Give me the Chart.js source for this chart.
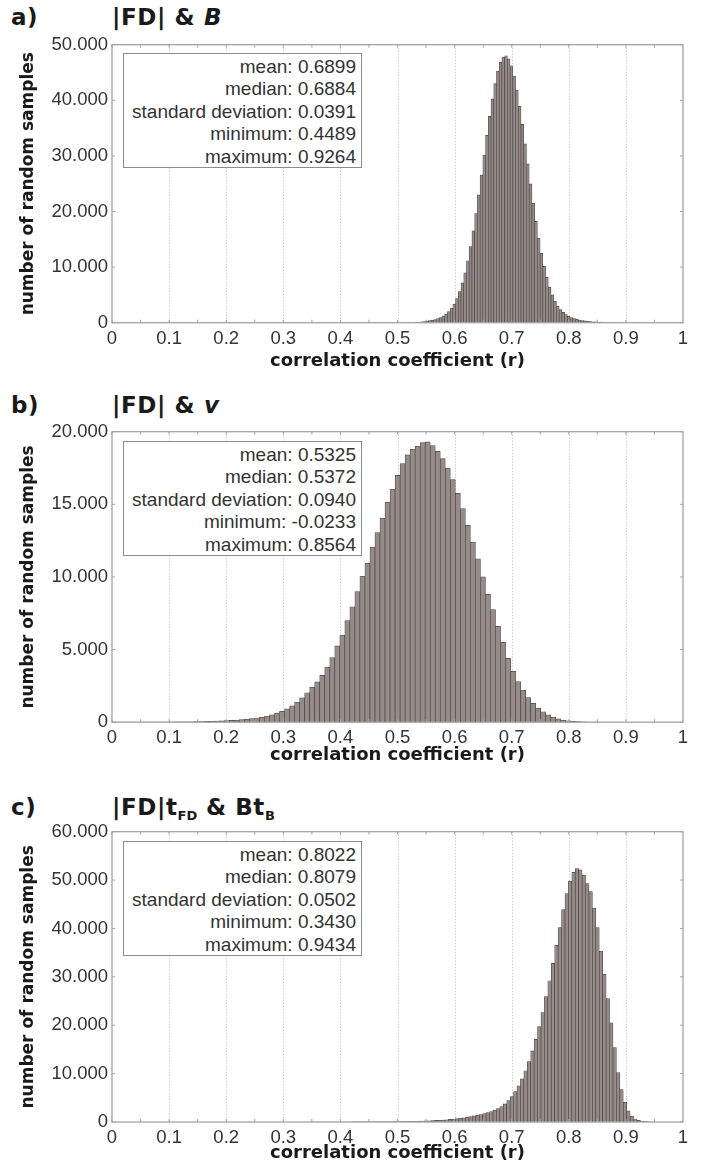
<!DOCTYPE html>
<html lang="en">
<head>
<meta charset="UTF-8">
<title>Correlation coefficient histograms</title>
<script src="https://cdn.jsdelivr.net/npm/chart.js"></script>
<style>
  body { margin: 0; width: 707px; height: 1171px; position: relative; overflow: hidden; background: #fff;
         font-family: "Liberation Sans", Arial, sans-serif; }
  canvas { position: absolute; left: 0; }
  .lbl { position: absolute; font: bold 23px "DejaVu Sans", Verdana, sans-serif; color: #1a1a1a;
         line-height: 26px; white-space: nowrap; letter-spacing: 0.6px; }
  .lbl sub { font-size: 13px; vertical-align: -5px; line-height: 0; letter-spacing: 0; }
  .stats { position: absolute; left: 123px; width: 239px; height: 115px; box-sizing: border-box;
           border: 1px solid #8c8c8c; background: #fff; text-align: right; color: #333;
           font-size: 19px; line-height: 22.4px; padding: 2px 5px 0 0; white-space: nowrap; }
</style>
</head>
<body>

<div class="lbl" style="left:11px; top:4px;">a)</div>
<div class="lbl" style="left:112px; top:4px;">|FD| &amp; <i>B</i></div>
<canvas id="chartA"></canvas>
<div class="stats" style="top:53px;">
  mean: 0.6899<br>median: 0.6884<br>standard deviation: 0.0391<br>minimum: 0.4489<br>maximum: 0.9264
</div>

<div class="lbl" style="left:11px; top:392px;">b)</div>
<div class="lbl" style="left:112px; top:392px;">|FD| &amp; <i>v</i></div>
<canvas id="chartB"></canvas>
<div class="stats" style="top:441px;">
  mean: 0.5325<br>median: 0.5372<br>standard deviation: 0.0940<br>minimum: -0.0233<br>maximum: 0.8564
</div>

<div class="lbl" style="left:11px; top:794px;">c)</div>
<div class="lbl" style="left:112px; top:794px;">|FD|t<sub>FD</sub> &amp; Bt<sub>B</sub></div>
<canvas id="chartC"></canvas>
<div class="stats" style="top:841px;">
  mean: 0.8022<br>median: 0.8079<br>standard deviation: 0.0502<br>minimum: 0.3430<br>maximum: 0.9434
</div>

<script>
    // histogram counts, 100 bins between the reported minimum and maximum
    var countsA = [
        1, 1, 1, 2, 2, 3, 4, 6, 8, 11,
        15, 20, 27, 35, 46, 60, 78, 100, 130, 170,
        220, 280, 360, 460, 580, 740, 940, 1200, 1550, 2000,
        2600, 3350, 4350, 5600, 7150, 8950, 11150, 13670, 16510, 19630,
        23000, 26530, 30130, 33700, 37120, 40270, 43000, 45230, 46840, 47780,
        48000, 47460, 46220, 44330, 41860, 38940, 35660, 32150, 28560, 24970,
        21510, 18240, 15230, 12530, 10150, 8150, 6400, 5000, 3900, 3000,
        2350, 1850, 1450, 1150, 920, 740, 600, 490, 400, 320,
        260, 210, 170, 140, 115, 95, 78, 64, 52, 42,
        34, 27, 22, 17, 13, 10, 7, 5, 3, 2
    ];
    var countsB = [
        1, 0, 1, 1, 1, 2, 2, 3, 3, 4,
        5, 7, 9, 11, 14, 17, 21, 26, 31, 37,
        44, 52, 62, 75, 90, 110, 130, 150, 180, 210,
        250, 290, 340, 410, 500, 620, 750, 920, 1120, 1380,
        1670, 2030, 2420, 2780, 3220, 3800, 4450, 5250, 6000, 7000,
        7950, 9000, 10050, 10950, 12050, 13050, 14050, 15150, 16050, 17000,
        17800, 18400, 18800, 19000, 19250, 19300, 19050, 18650, 18150, 17500,
        16700, 15750, 14700, 13550, 12400, 11250, 10000, 8800, 7750, 6600,
        5500, 4400, 3500, 2800, 2200, 1700, 1300, 970, 720, 510,
        350, 230, 150, 100, 65, 40, 25, 14, 7, 3
    ];
    var countsC = [
        2, 1, 1, 2, 2, 3, 3, 4, 4, 5,
        6, 7, 8, 10, 11, 13, 15, 18, 21, 25,
        29, 34, 40, 46, 54, 62, 72, 83, 95, 110,
        126, 145, 166, 190, 217, 248, 283, 322, 366, 416,
        472, 535, 606, 686, 776, 878, 993, 1120, 1260, 1420,
        1550, 1720, 1930, 2170, 2450, 2780, 3200, 3750, 4450, 5250,
        6300, 7500, 8900, 10600, 12500, 14700, 17100, 19700, 22600, 25900,
        29200, 32800, 36500, 40200, 43900, 47200, 49800, 51600, 52400, 52100,
        51000, 49300, 47600, 44200, 40200, 35300, 30500, 25500, 20500, 15400,
        10200, 6700, 4100, 2300, 1200, 620, 320, 170, 90, 40
    ];
    var rangeA = [0.4489, 0.9264];
    var rangeB = [-0.0233, 0.8564];
    var rangeC = [0.3430, 0.9434];

    var xTicks = [0, 0.1, 0.2, 0.3, 0.4, 0.5, 0.6, 0.7, 0.8, 0.9, 1];
    var xTickLabels = ["0", "0.1", "0.2", "0.3", "0.4", "0.5", "0.6", "0.7", "0.8", "0.9", "1"];
    var yTicksA = [0, 10000, 20000, 30000, 40000, 50000];
    var yLabelsA = ["0", "10.000", "20.000", "30.000", "40.000", "50.000"];
    var yTicksB = [0, 5000, 10000, 15000, 20000];
    var yLabelsB = ["0", "5.000", "10.000", "15.000", "20.000"];
    var yTicksC = [0, 10000, 20000, 30000, 40000, 50000, 60000];
    var yLabelsC = ["0", "10.000", "20.000", "30.000", "40.000", "50.000", "60.000"];

    var tickFont = { family: '"Liberation Sans", Arial, sans-serif', size: 18.5 };
    var yTitleFont = { family: '"DejaVu Sans", Verdana, sans-serif', size: 17, weight: "bold" };
    var xTitleFont = { family: '"DejaVu Sans", Verdana, sans-serif', size: 18, weight: "bold" };

    // dotted grid behind the bars, box with inward ticks on top
    var frame = {
        id: "frame",
        beforeDatasetsDraw: function (chart) {
            var ctx = chart.ctx, a = chart.chartArea, x = chart.scales.x;
            ctx.save();
            ctx.strokeStyle = "#b5b5b5";
            ctx.lineWidth = 1;
            ctx.setLineDash([1, 2]);
            for (var i = 1; i < xTicks.length - 1; i++) {
                var px = Math.round(x.getPixelForValue(xTicks[i])) + 0.5;
                ctx.beginPath();
                ctx.moveTo(px, a.top);
                ctx.lineTo(px, a.bottom);
                ctx.stroke();
            }
            ctx.restore();
        },
        afterDatasetsDraw: function (chart) {
            var ctx = chart.ctx, a = chart.chartArea, x = chart.scales.x, y = chart.scales.y;
            var yt = chart.options.yTickValues;
            ctx.save();
            ctx.strokeStyle = "#a3a3a3";
            ctx.lineWidth = 1.3;
            ctx.strokeRect(a.left, a.top, a.right - a.left, a.bottom - a.top);
            ctx.lineWidth = 1;
            ctx.beginPath();
            for (var i = 0; i < xTicks.length - 1; i++) {
                [xTicks[i], (xTicks[i] + xTicks[i + 1]) / 2].forEach(function (v) {
                    var px = x.getPixelForValue(v);
                    ctx.moveTo(px, a.top); ctx.lineTo(px, a.top + 3);
                    ctx.moveTo(px, a.bottom); ctx.lineTo(px, a.bottom - 3);
                });
            }
            yt.forEach(function (v) {
                var py = y.getPixelForValue(v);
                ctx.moveTo(a.left, py); ctx.lineTo(a.left + 3, py);
                ctx.moveTo(a.right, py); ctx.lineTo(a.right - 3, py);
            });
            ctx.stroke();
            ctx.restore();
        }
    };

    function painel(id, counts, range, yTicks, yLabels, box) {
        var w = (range[1] - range[0]) / counts.length;
        var dados = counts.map(function (c, i) {
            return { x: range[0] + (i + 0.5) * w, y: c };
        });

        var cv = document.getElementById(id);
        cv.width = 707;
        cv.height = box.height;
        cv.style.top = box.top + "px";

        var plotTop = box.plotTop - box.top;
        var plotBottom = box.plotBottom - box.top;
        var titleY = box.titleY - box.top;
        var half = xTitleFont.size * 0.6;

        new Chart(cv, {
            type: "bar",
            data: {
                datasets: [{
                    data: dados,
                    backgroundColor: "#958b89",
                    borderColor: "#4f4745",
                    borderWidth: 0.7,
                    barPercentage: 1,
                    categoryPercentage: 1,
                }],
            },
            options: {
                responsive: false,
                animation: false,
                devicePixelRatio: 1,
                yTickValues: yTicks,
                layout: { padding: { left: 18, right: 24, top: plotTop, bottom: box.height - titleY - half } },
                plugins: { legend: { display: false }, tooltip: { enabled: false } },
                scales: {
                    x: {
                        type: "linear", min: 0, max: 1, offset: false,
                        grid: { display: false, drawTicks: false },
                        border: { display: false },
                        afterBuildTicks: function (s) { s.ticks = xTicks.map(function (v) { return { value: v }; }); },
                        afterFit: function (s) { s.height = titleY + half - plotBottom; },
                        ticks: {
                            autoSkip: false, maxRotation: 0, padding: 5, color: "#333", font: tickFont,
                            callback: function (v, i) { return xTickLabels[i]; }
                        },
                        title: { display: true, text: "correlation coefficient (r)", color: "#1a1a1a", font: xTitleFont, padding: 0 },
                    },
                    y: {
                        min: 0, max: yTicks[yTicks.length - 1],
                        grid: { display: false, drawTicks: false },
                        border: { display: false },
                        afterBuildTicks: function (s) { s.ticks = yTicks.map(function (v) { return { value: v }; }); },
                        afterFit: function (s) { s.width = 94; },
                        ticks: {
                            padding: 4, color: "#333", font: tickFont,
                            callback: function (v, i) { return yLabels[i]; }
                        },
                        title: { display: true, text: "number of random samples", color: "#1a1a1a", font: yTitleFont, padding: 0 },
                    },
                },
            },
            plugins: [frame],
        });
    }

    painel("chartA", countsA, rangeA, yTicksA, yLabelsA, { top: 0, height: 380, plotTop: 44.7, plotBottom: 322.7, titleY: 361 });
    painel("chartB", countsB, rangeB, yTicksB, yLabelsB, { top: 380, height: 395, plotTop: 431.7, plotBottom: 722.2, titleY: 755 });
    painel("chartC", countsC, rangeC, yTicksC, yLabelsC, { top: 775, height: 396, plotTop: 831.7, plotBottom: 1122, titleY: 1153 });
</script>
</body>
</html>
